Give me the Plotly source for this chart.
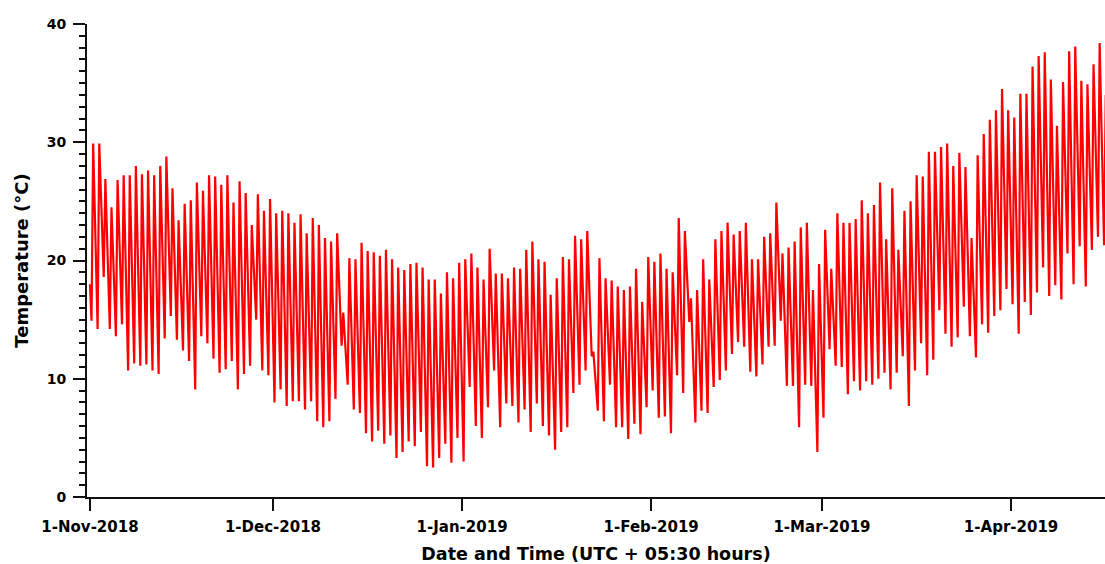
import pandas as pd
import plotly.graph_objects as go

# Daily temperature extremes (°C), 1-Nov-2018 onward, one entry per day
start_date = "2018-11-01"
start_temp = 18.0  # value at midnight of the first day

day_min = [
    14.9, 14.2, 18.6, 14.2, 13.6, 14.6, 10.7, 11.3, 11.1, 11.2,
    10.7, 10.4, 13.4, 15.3, 13.3, 12.4, 11.5, 9.1, 13.6, 13.0,
    11.7, 10.5, 10.8, 11.5, 9.1, 10.4, 11.1, 15.0, 10.7, 10.3,
    8.0, 9.1, 7.7, 8.1, 8.1, 7.4, 8.1, 6.4, 5.9, 6.4,
    8.3, 12.8, 9.5, 7.4, 7.1, 5.4, 4.7, 5.6, 4.5, 5.2,
    3.3, 3.8, 4.7, 4.3, 5.5, 2.6, 2.5, 3.3, 4.5, 2.9,
    5.0, 3.0, 9.3, 6.0, 5.0, 7.6, 10.7, 5.9, 7.9, 7.7,
    6.3, 7.4, 5.5, 7.9, 6.0, 5.2, 4.0, 5.5, 5.9, 8.8,
    9.5, 10.7, 11.9, 7.3, 6.4, 9.5, 5.9, 5.9, 4.9, 6.2,
    5.3, 7.6, 9.0, 6.7, 6.8, 5.4, 10.3, 8.8, 14.8, 6.3,
    7.3, 7.1, 9.3, 9.9, 10.7, 12.1, 13.1, 12.7, 10.6, 10.2,
    11.2, 12.7, 12.8, 14.9, 9.4, 9.4, 5.9, 9.5, 9.4, 3.8,
    6.7, 12.5, 11.1, 11.0, 8.7, 9.8, 9.0, 9.8, 9.5, 10.0,
    10.5, 9.1, 10.5, 11.9, 7.7, 10.7, 13.0, 10.3, 11.6, 15.8,
    13.8, 12.7, 13.5, 16.1, 13.6, 11.8, 14.6, 13.9, 15.3, 15.8,
    17.6, 16.3, 13.8, 16.5, 15.4, 17.3, 19.4, 17.0, 17.9, 16.7,
    20.6, 18.0, 21.2, 17.8, 20.9, 22.0, 21.3,
]

day_max = [
    29.9, 29.9, 26.9, 24.5, 26.8, 27.2, 27.2, 28.0, 27.3, 27.6,
    27.2, 28.0, 28.8, 26.1, 23.4, 24.8, 25.1, 26.6, 25.9, 27.2,
    27.1, 26.4, 27.2, 24.9, 26.7, 25.7, 23.0, 25.6, 24.2, 25.2,
    24.0, 24.2, 24.0, 23.2, 23.9, 22.3, 23.6, 23.0, 21.9, 21.6,
    22.3, 15.6, 20.2, 20.1, 21.5, 20.8, 20.7, 20.4, 20.9, 20.1,
    19.4, 19.2, 19.7, 19.8, 19.4, 18.4, 18.4, 17.2, 19.0, 18.5,
    19.8, 20.1, 20.6, 19.4, 18.4, 21.0, 18.9, 18.9, 18.5, 19.4,
    19.3, 20.9, 21.6, 20.1, 19.9, 17.1, 18.5, 20.3, 20.1, 22.1,
    21.8, 22.5, 12.3, 20.2, 18.5, 18.3, 17.8, 17.5, 17.8, 19.3,
    16.5, 20.3, 19.9, 20.6, 19.3, 19.0, 23.6, 22.5, 16.8, 17.5,
    20.1, 18.4, 21.8, 22.5, 23.2, 22.2, 22.5, 23.2, 20.1, 20.1,
    22.0, 22.3, 24.9, 20.6, 21.1, 21.6, 22.8, 23.2, 17.5, 19.7,
    22.6, 19.3, 24.0, 23.2, 23.2, 23.5, 25.1, 24.0, 24.7, 26.6,
    21.8, 26.1, 20.9, 24.2, 25.0, 27.2, 27.1, 29.2, 29.2, 29.6,
    29.9, 28.0, 29.1, 27.9, 21.9, 28.9, 30.7, 31.9, 32.7, 34.5,
    32.7, 32.1, 34.1, 34.1, 36.4, 37.3, 37.6, 35.3, 31.4, 35.1,
    37.7, 38.1, 35.2, 34.9, 36.6, 38.4, 34.0,
]

tick_dates = ["2018-11-01", "2018-12-01", "2019-01-01",
              "2019-02-01", "2019-03-01", "2019-04-01"]
tick_text = ["1-Nov-2018", "1-Dec-2018", "1-Jan-2019",
             "1-Feb-2019", "1-Mar-2019", "1-Apr-2019"]

# Build the time series: morning low at 06:00, afternoon high at 12:30
MIN_HOUR = 6.0
MAX_HOUR = 12.5
t0 = pd.Timestamp(start_date)
times = [t0]
temps = [start_temp]
for d, (lo, hi) in enumerate(zip(day_min, day_max)):
    day = t0 + pd.Timedelta(days=d)
    times.append(day + pd.Timedelta(hours=MIN_HOUR))
    temps.append(lo)
    times.append(day + pd.Timedelta(hours=MAX_HOUR))
    temps.append(hi)

FONT = "DejaVu Sans"
AXIS_COLOR = "#111111"

fig = go.Figure(
    go.Scatter(
        x=times,
        y=temps,
        mode="lines",
        line=dict(color="#FF0000", width=2.2),
        hoverinfo="skip",
    )
)

x_start = t0 - pd.Timedelta(days=0.49)
x_end = t0 + pd.Timedelta(days=166.4)

fig.update_layout(
    width=1105,
    height=564,
    margin=dict(l=87, r=0, t=24, b=67),
    paper_bgcolor="white",
    plot_bgcolor="white",
    showlegend=False,
    font=dict(family=FONT, color="#000000"),
    xaxis=dict(
        type="date",
        range=[x_start, x_end],
        tickvals=tick_dates,
        ticktext=tick_text,
        tickfont=dict(family=FONT, size=15, weight="bold", color="#000000"),
        ticks="outside",
        ticklen=12,
        tickwidth=2,
        tickcolor=AXIS_COLOR,
        ticklabelstandoff=3,
        showline=True,
        linecolor=AXIS_COLOR,
        linewidth=2,
        showgrid=False,
        zeroline=False,
        title=dict(
            text="Date and Time (UTC + 05:30 hours)",
            font=dict(family=FONT, size=17.5, weight="bold", color="#000000"),
            standoff=13,
        ),
    ),
    yaxis=dict(
        range=[0, 40],
        tickvals=[0, 10, 20, 30, 40],
        tickfont=dict(family=FONT, size=14, weight="bold", color="#000000"),
        ticks="outside",
        ticklen=12,
        tickwidth=2,
        tickcolor=AXIS_COLOR,
        ticklabelstandoff=4,
        minor=dict(dtick=1, ticks="outside", ticklen=6, tickwidth=2,
                   tickcolor=AXIS_COLOR, showgrid=False),
        showline=True,
        linecolor=AXIS_COLOR,
        linewidth=2,
        showgrid=False,
        zeroline=False,
        title=dict(
            text="Temperature (°C)",
            font=dict(family=FONT, size=18, weight="bold", color="#000000"),
            standoff=13,
        ),
    ),
)

fig.write_html("out.html")
